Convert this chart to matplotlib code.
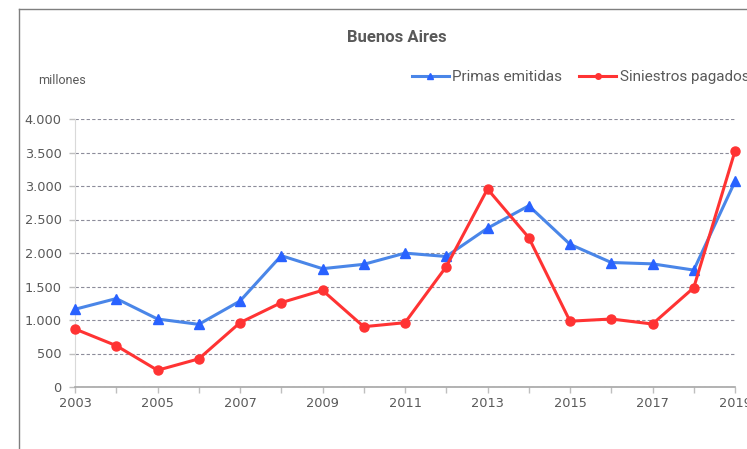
import matplotlib
matplotlib.use("Agg")
import matplotlib.pyplot as plt
from matplotlib.lines import Line2D
from matplotlib.ticker import FuncFormatter, MultipleLocator

plt.rcParams['font.family'] = ['Roboto', 'DejaVu Sans']

years = list(range(2003, 2020))
primas = [1160, 1320, 1015, 935, 1283, 1960, 1766, 1831, 1998, 1948, 2370, 2705, 2130, 1858, 1838, 1745, 3068]
siniestros = [866, 617, 250, 420, 960, 1259, 1443, 900, 960, 1796, 2955, 2230, 982, 1015, 940, 1482, 3522]
tick_years = [2003, 2005, 2007, 2009, 2011, 2013, 2015, 2017, 2019]

txt = '#595959'
blue_line = '#4A86E8'
blue_mark = '#2962FF'
red = '#FF3333'

fig = plt.figure(figsize=(7.47, 4.49), dpi=100)
ax = fig.add_axes([75 / 747, 1 - 387 / 449, 660 / 747, 268 / 449])

ax.plot(years, primas, color=blue_line, lw=2.2, marker='^', ms=6.5,
        mfc=blue_mark, mec=blue_mark, zorder=3, clip_on=False)
ax.plot(years, siniestros, color=red, lw=2.2, marker='o', ms=6.5,
        mfc=red, mec=red, zorder=4, clip_on=False)

ax.set_xlim(2003, 2019)
ax.set_ylim(0, 4000)
ax.yaxis.set_major_locator(MultipleLocator(500))
ax.yaxis.set_major_formatter(FuncFormatter(lambda v, p: f"{int(v):,}".replace(',', '.')))
ax.set_xticks(years)
ax.set_xticklabels([str(y) if y in tick_years else '' for y in years])
ax.tick_params(axis='both', colors='#bfbfbf', labelcolor=txt, labelsize=9.3, length=4.5, width=1)
ax.tick_params(axis='x', pad=3)
ax.tick_params(axis='y', pad=5)
for lbl in ax.get_xticklabels() + ax.get_yticklabels():
    lbl.set_family('DejaVu Sans')

ax.grid(axis='y', color='#8c8c9a', ls=(0, (3, 2)), lw=0.8)
ax.set_axisbelow(True)
for s in ['top', 'right']:
    ax.spines[s].set_visible(False)
ax.spines['left'].set_color('#d9d9d9')
ax.spines['bottom'].set_color('#a6a6a6')
ax.spines['bottom'].set_linewidth(1.2)

fig.text(397 / 747, 1 - 38 / 449, 'Buenos Aires', ha='center', va='center',
         fontsize=12, fontweight='bold', color=txt)
fig.text(38 / 747, 1 - 80 / 449, 'millones', ha='left', va='center', fontsize=9, color=txt)

handles = [Line2D([], [], color=blue_line, lw=2.2, marker='^', ms=4, mfc=blue_mark, mec=blue_mark),
           Line2D([], [], color=red, lw=2.2, marker='o', ms=4, mfc=red, mec=red)]
fig.legend(handles, ['Primas emitidas', 'Siniestros pagados'], loc='center left',
           bbox_to_anchor=(412 / 747, 1 - 77 / 449), ncol=2, frameon=False,
           fontsize=11, labelcolor=txt, handlelength=2.4, handletextpad=0.25,
           columnspacing=1.1, borderaxespad=0, borderpad=0)

# chart frame
fig.add_artist(Line2D([19 / 747, 19 / 747], [0, 1 - 9 / 449], color='#7f7f7f', lw=1))
fig.add_artist(Line2D([19 / 747, 1], [1 - 9 / 449, 1 - 9 / 449], color='#7f7f7f', lw=1))

fig.savefig('out.png', dpi=100)
